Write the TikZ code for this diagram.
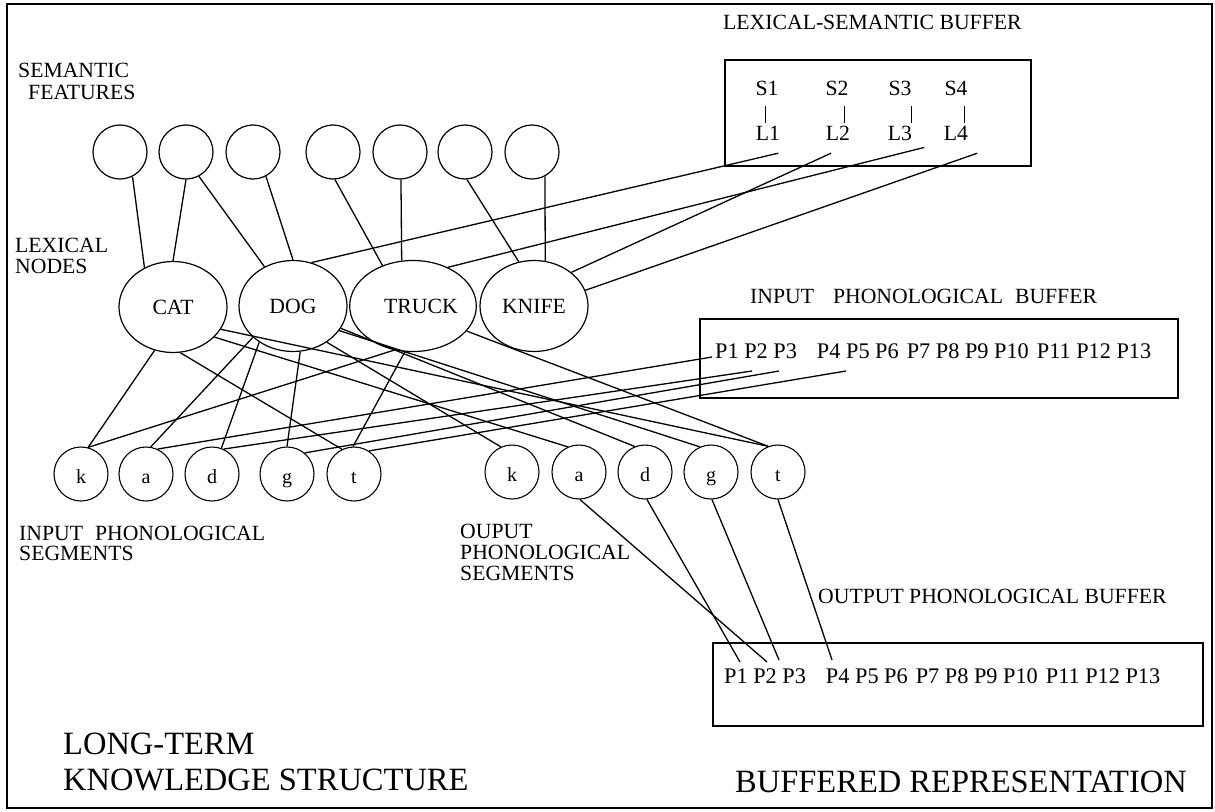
\documentclass[tikz,border=0pt]{standalone}
\usepackage{fontspec}
\setmainfont{Liberation Serif}
\usetikzlibrary{shapes.geometric}
\tikzset{
  lbl/.style={inner sep=0pt, font=\fontsize{21.7}{22}\selectfont},
  prow/.style={inner sep=0pt, font=\fontsize{22.3}{22}\selectfont},
  bigl/.style={inner sep=0pt, font=\fontsize{32.5}{36}\selectfont},
  sem/.style={circle, draw, line width=1.2pt, minimum size=54pt, inner sep=0pt},
  lex/.style={ellipse, draw, line width=1.2pt, minimum width=108pt, minimum height=91pt, inner sep=0pt, font=\fontsize{21.7}{22}\selectfont},
  seg/.style={circle, draw, line width=1.1pt, minimum size=54pt, inner sep=0pt, text height=18pt, text depth=0pt, font=\fontsize{20}{20}\selectfont},
  conn/.style={line width=1.3pt},
  buf/.style={draw, line width=1.5pt, inner sep=0pt, anchor=north west},
}
\begin{document}
\begin{tikzpicture}[x=1pt,y=-1pt]
\useasboundingbox (0,0) rectangle (1215,811);
\draw[line width=2pt] (7,4) rectangle (1212,808);

% semantic feature units
\foreach \n/\x in {1/120,2/186,3/253,4/333,5/400,6/465,7/532}
  \node[sem] (c\n) at (\x,152) {};

% lexical nodes
\node[lex] (cat) at (173,307) {CAT};
\node[lex] (dog) at (293,306) {DOG};
\node[lex] (truck) at (413,306) {\hspace*{16pt}TRUCK};
\node[lex] (knife) at (534,306) {KNIFE};

% input segments
\node[seg] (ik) at (81,474) {k};
\node[seg] (ia) at (146,474) {a};
\node[seg] (id) at (212,474) {d};
\node[seg] (ig) at (287,474) {g};
\node[seg] (it) at (354,474) {t};
% output segments
\node[seg] (ok) at (512,472) {k};
\node[seg] (oa) at (579,472) {a};
\node[seg] (od) at (645,472) {d};
\node[seg] (og) at (711,472) {g};
\node[seg] (ot) at (778,472) {t};

% buffers
\node[buf, minimum width=306pt, minimum height=106pt] (lsbox) at (724,59) {};
\node[buf, minimum width=478pt, minimum height=79pt] (ibox) at (699,318) {};
\node[buf, minimum width=490pt, minimum height=83pt] (obox) at (712,642) {};

\node[lbl, anchor=base] (S1) at (767,95) {S1};
\node[lbl, anchor=base] (S2) at (837,95) {S2};
\node[lbl, anchor=base] (S3) at (900,95) {S3};
\node[lbl, anchor=base] (S4) at (956,95) {S4};
\node[lbl, anchor=base] (L1) at (768,140) {L1};
\node[lbl, anchor=base] (L2) at (838,140) {L2};
\node[lbl, anchor=base] (L3) at (900,140) {L3};
\node[lbl, anchor=base] (L4) at (956,140) {L4};
\draw[line width=1pt, shorten <=11pt, shorten >=2.6pt] ([xshift=-2pt]S1.south) -- ([xshift=-3pt]L1.north);
\draw[line width=1pt, shorten <=11pt, shorten >=2.6pt] ([xshift=7pt]S2.south) -- ([xshift=6pt]L2.north);
\draw[line width=1pt, shorten <=11pt, shorten >=2.6pt] ([xshift=11pt]S3.south) -- ([xshift=11pt]L3.north);
\draw[line width=1pt, shorten <=11pt, shorten >=2.6pt] ([xshift=8pt]S4.south) -- ([xshift=8pt]L4.north);

\node[prow, anchor=base west] (ip) at (715,358) {P1 P2 P3\hspace{20pt}P4 P5 P6\hspace{8pt}P7 P8 P9 P10\hspace{8pt}P11 P12 P13};
\node[prow, anchor=base west] (op) at (724,683) {P1 P2 P3\hspace{20pt}P4 P5 P6\hspace{8pt}P7 P8 P9 P10\hspace{8pt}P11 P12 P13};

% labels
\node[lbl, anchor=base west] (lsb) at (723,29) {LEXICAL-SEMANTIC BUFFER};
\node[lbl, anchor=north west, align=left] (semf) at (18,63) {SEMANTIC\\\hspace*{10pt}FEATURES};
\node[lbl, anchor=north west, align=left, font=\fontsize{21.7}{21}\selectfont] (lexn) at (15,238) {LEXICAL\\NODES};
\node[lbl, anchor=base west] (ipb) at (750,303) {INPUT\hspace{19pt}PHONOLOGICAL\hspace{12pt}BUFFER};
\node[lbl, anchor=north west, align=left, font=\fontsize{21.7}{20}\selectfont] (ips) at (19,526) {INPUT\hspace{12pt}PHONOLOGICAL\\SEGMENTS};
\node[lbl, anchor=north west, align=left, font=\fontsize{21.7}{21}\selectfont] (ops) at (460,524) {OUPUT\\PHONOLOGICAL\\SEGMENTS};
\node[lbl, anchor=base west] (opb) at (818,603) {OUTPUT PHONOLOGICAL BUFFER};
\node[bigl, anchor=north west, align=left] (lt) at (63,733) {LONG-TERM\\KNOWLEDGE STRUCTURE};
\node[bigl, anchor=base west] (br) at (735,792) {BUFFERED REPRESENTATION};

% semantic -> lexical
\draw[conn] (c1.-63) -- (cat.126);
\draw[conn] (c2.-90) -- (cat.90);
\draw[conn] (c2.-62) -- (dog.126);
\draw[conn] (c3.-62) -- (dog.90);
\draw[conn] (c4.-86) -- (truck.127);
\draw[conn] (c5.-88) -- (truck.104);
\draw[conn] (c6.-86) -- (knife.109);
\draw[conn] (c7.-62) -- (knife.76);

% lexical-semantic buffer -> lexical
\draw[conn] ([shift={(-2,13)}]L1.south east) -- (dog.67);
\draw[conn] ([shift={(-7,13)}]L2.south) -- (knife.42);
\draw[conn] ([shift={(12,7)}]L3.south east) -- (truck.48);
\draw[conn] ([shift={(9,13)}]L4.south east) -- (knife.17);

% lexical -> input segments
\draw[conn] (cat.-113) -- (ik.75);
\draw[conn] (cat.-81) -- (it.116);
\draw[conn] (dog.-142) -- (ia.80);
\draw[conn] (dog.-133) -- (id.70);
\draw[conn] (dog.-81) -- (ig.90);
\draw[conn] (truck.-113) -- (ik.75);
\draw[conn] (truck.-100) -- (it.92);

% input segments -> input buffer
\draw[conn] (ia.65) -- ([shift={(-3,-1)}]ip.base west);
\draw[conn] (id.65) -- ([shift={(37,13)}]ip.base west);
\draw[conn] (ig.50) -- ([shift={(64,13)}]ip.base west);
\draw[conn] (it.57) -- ([shift={(131,13)}]ip.base west);

% lexical -> output segments
\draw[conn] (cat.-25) -- (ot.111);
\draw[conn] (cat.-36) -- (oa.114);
\draw[conn] (dog.-47) -- (ok.114);
\draw[conn] (dog.-25) -- (od.112);
\draw[conn] (dog.-28) -- (og.114);
\draw[conn] (truck.-25) -- (ot.111);

% output segments -> output buffer
\draw[conn] (oa.-88) -- ([shift={(43,-21)}]op.base west);
\draw[conn] (od.-86) -- ([shift={(16,-21)}]op.base west);
\draw[conn] (og.-88) -- ([shift={(55,-23)}]op.base west);
\draw[conn] (ot.-90) -- ([shift={(108,-23)}]op.base west);
\end{tikzpicture}
\end{document}
